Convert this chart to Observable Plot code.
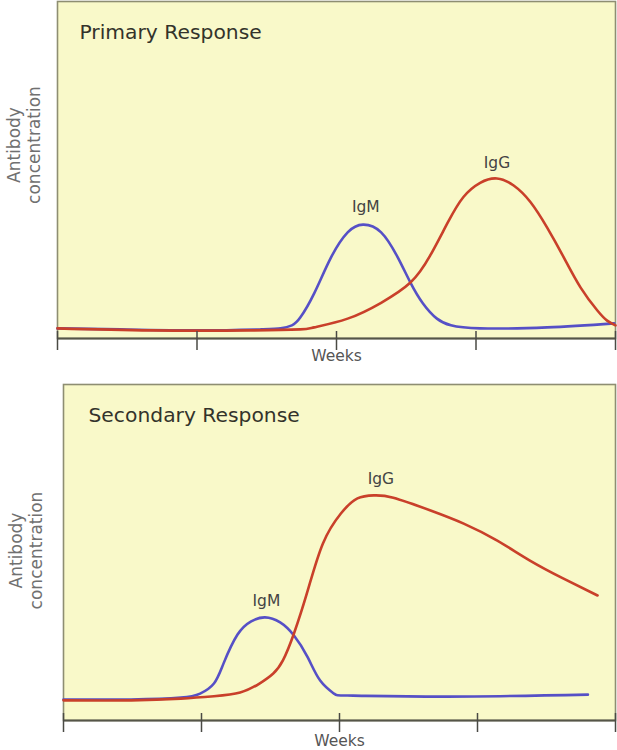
<!DOCTYPE html>
<html>
<head>
<meta charset="utf-8">
<script src="https://cdn.jsdelivr.net/npm/d3@7"></script>
<script src="https://cdn.jsdelivr.net/npm/@observablehq/plot@0.6"></script>
<style>
  html, body { margin: 0; padding: 0; background: #ffffff; }
  #chart svg { display: block; }
</style>
</head>
<body>
<div id="chart"></div>
<script>
// ---- data (x in weeks, y in relative antibody concentration 0–100) ----
const weekTicks = [0, 1, 2, 3, 4];
const seriesNames = ["IgM", "IgG"];

const primaryIgMWeeks = [0.00, 0.45, 1.03, 1.46, 1.60, 1.68, 1.74, 1.84, 1.96, 2.08, 2.19, 2.32, 2.44, 2.53, 2.62, 2.72, 2.82, 3.03, 3.51, 3.99];
const primaryIgMConc  = [3.0, 2.7, 2.4, 2.7, 3.0, 3.9, 6.2, 13.4, 24.0, 31.5, 33.8, 31.5, 24.0, 16.6, 10.4, 5.9, 3.9, 3.0, 3.3, 4.5];

const primaryIgGWeeks = [0.00, 0.67, 1.38, 1.74, 1.84, 2.08, 2.32, 2.53, 2.67, 2.80, 2.91, 3.03, 3.15, 3.27, 3.39, 3.51, 3.63, 3.75, 3.87, 3.94, 4.00];
const primaryIgGConc  = [3.0, 2.4, 2.4, 2.7, 3.3, 5.9, 10.6, 16.6, 24.5, 34.6, 42.0, 46.2, 47.5, 45.4, 40.5, 32.9, 24.0, 15.1, 8.3, 5.3, 3.9];

const secondaryIgMWeeks = [0.00, 0.49, 0.85, 0.99, 1.09, 1.16, 1.26, 1.36, 1.46, 1.57, 1.67, 1.77, 1.86, 1.96, 2.10, 2.78, 3.80];
const secondaryIgMConc  = [6.25, 6.25, 6.8, 8.0, 11.0, 17.0, 25.5, 29.5, 30.7, 29.2, 25.3, 18.8, 11.9, 8.0, 7.4, 7.1, 7.7];

const secondaryIgGWeeks = [0.00, 0.49, 0.85, 1.09, 1.28, 1.42, 1.52, 1.59, 1.67, 1.77, 1.88, 2.01, 2.13, 2.25, 2.39, 2.66, 2.90, 3.14, 3.38, 3.62, 3.87];
const secondaryIgGConc  = [6.0, 6.0, 6.5, 7.2, 8.3, 11.0, 14.0, 17.9, 25.9, 38.7, 52.7, 61.6, 66.1, 67.0, 66.3, 62.5, 58.6, 53.6, 47.6, 42.3, 37.2];

// label anchor points (weeks, concentration)
const primaryLabelWeeks = [2.21, 3.15];
const primaryLabelConc  = [39.0, 52.2];
const secondaryLabelWeeks = [1.47, 2.30];
const secondaryLabelConc  = [35.7, 72.0];

const titles = ["Primary Response", "Secondary Response"];
const xLabel = "Weeks";
const yLabel = "Antibody\nconcentration";

// ---- helpers ----
const toRows = (w, c) => w.map((x, i) => ({week: x, conc: c[i]}));
const colors = {IgM: "#5650c6", IgG: "#c9402a"};
const FONT = "DejaVu Sans, Verdana, sans-serif";

function panel(cfg) {
  const labels = seriesNames.map((s, i) => ({name: s, week: cfg.labelWeeks[i], conc: cfg.labelConc[i]}));
  return Plot.plot({
    width: 617,
    height: cfg.height,
    marginTop: cfg.marginTop,
    marginBottom: cfg.marginBottom,
    marginLeft: cfg.marginLeft,
    marginRight: 2,
    style: {fontFamily: FONT, background: "transparent", overflow: "visible"},
    x: {domain: [0, 4]},
    y: {domain: [0, 100], axis: null},
    marks: [
      Plot.frame({fill: "#f9f9c9", stroke: "#8e8e72", strokeWidth: 1.6}),
      Plot.lineY(cfg.igm, {x: "week", y: "conc", stroke: colors.IgM, strokeWidth: 2.6, curve: "natural"}),
      Plot.lineY(cfg.igg, {x: "week", y: "conc", stroke: colors.IgG, strokeWidth: 2.6, curve: "natural"}),
      Plot.ruleY([0], {stroke: "#555548", strokeWidth: 2}),
      Plot.axisX({ticks: weekTicks, tickFormat: () => "", tickSize: 19, dy: -7, stroke: "#4a4a44", strokeWidth: 1.5, label: null}),
      Plot.text(labels, {x: "week", y: "conc", text: "name", fontSize: 15.5, fill: "#444", lineAnchor: "middle"}),
      Plot.text([cfg.title], {frameAnchor: "top-left", dx: cfg.titleDx, dy: cfg.titleDy, text: d => d, textAnchor: "start", lineAnchor: "middle", fontSize: 20.3, fill: "#33332b"}),
      Plot.text([xLabel], {frameAnchor: "bottom", dy: cfg.weeksDy, text: d => d, lineAnchor: "middle", fontSize: 15.5, fill: "#555"}),
      Plot.text([yLabel], {frameAnchor: "left", dx: cfg.yLabelDx, dy: cfg.yLabelDy, text: d => d, rotate: -90, textAnchor: "middle", lineAnchor: "middle", lineHeight: 1.2, fontSize: 17, fill: "#707070"})
    ]
  });
}

const chart = document.getElementById("chart");
chart.append(panel({
  title: titles[0],
  igm: toRows(primaryIgMWeeks, primaryIgMConc),
  igg: toRows(primaryIgGWeeks, primaryIgGConc),
  labelWeeks: primaryLabelWeeks, labelConc: primaryLabelConc,
  height: 375, marginTop: 1, marginBottom: 37, marginLeft: 57,
  titleDx: 22, titleDy: 31, weeksDy: 18, yLabelDx: -34, yLabelDy: -25
}));
chart.append(panel({
  title: titles[1],
  igm: toRows(secondaryIgMWeeks, secondaryIgMConc),
  igg: toRows(secondaryIgGWeeks, secondaryIgGConc),
  labelWeeks: secondaryLabelWeeks, labelConc: secondaryLabelConc,
  height: 375, marginTop: 9, marginBottom: 30, marginLeft: 63,
  titleDx: 25, titleDy: 31, weeksDy: 21, yLabelDx: -38, yLabelDy: -2
}));
</script>
</body>
</html>
